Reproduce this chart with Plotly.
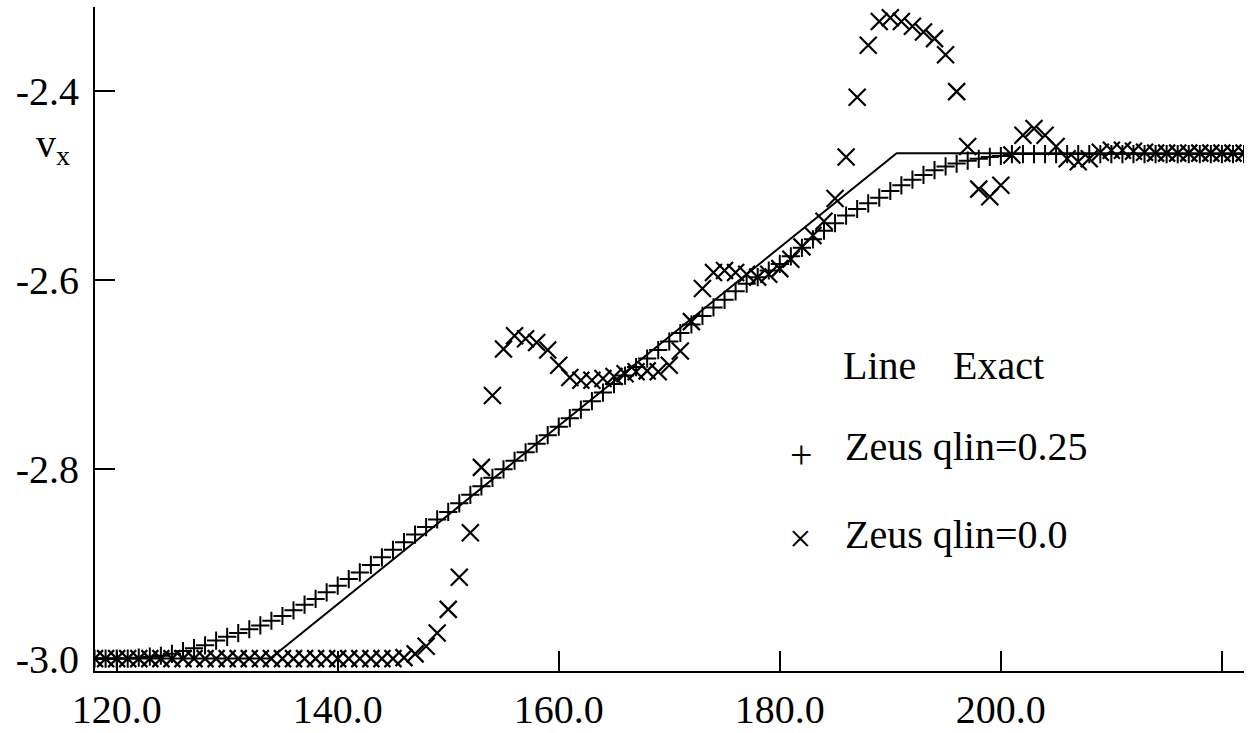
import plotly.graph_objects as go

# ---- data ----
x_grid = list(range(118, 223))

exact_x = [118.0, 133.9, 190.57, 222.0]
exact_y = [-3.0, -3.0, -2.466, -2.466]

plus_y = [
    -3.000, -3.000, -3.000, -3.000, -2.999, -2.998, -2.997, -2.995, -2.992, -2.989,  # 118-127
    -2.986, -2.981, -2.977, -2.973, -2.969, -2.965, -2.960, -2.955, -2.949, -2.943,  # 128-137
    -2.937, -2.930, -2.923, -2.916, -2.909, -2.901, -2.893, -2.885, -2.877, -2.869,  # 138-147
    -2.861, -2.853, -2.845, -2.836, -2.827, -2.818, -2.809, -2.800, -2.791, -2.782,  # 148-157
    -2.773, -2.764, -2.755, -2.746, -2.737, -2.728, -2.719, -2.710, -2.701, -2.692,  # 158-167
    -2.683, -2.674, -2.665, -2.656, -2.647, -2.638, -2.629, -2.621, -2.612, -2.604,  # 168-177
    -2.597, -2.590, -2.583, -2.575, -2.566, -2.557, -2.548, -2.540, -2.532, -2.525,  # 178-187
    -2.519, -2.513, -2.506, -2.500, -2.494, -2.489, -2.484, -2.480, -2.477, -2.474,  # 188-197
    -2.472, -2.470, -2.469, -2.467, -2.467, -2.467, -2.467, -2.467, -2.467, -2.467,  # 198-207
    -2.467, -2.467, -2.467, -2.467, -2.467, -2.467, -2.467, -2.467, -2.467, -2.467,  # 208-217
    -2.467, -2.467, -2.467, -2.467, -2.467,                                          # 218-222
]

cross_y = [
    -3.000, -3.000, -3.000, -3.000, -3.000, -3.000, -3.000, -3.000, -3.000, -3.000,  # 118-127
    -3.000, -3.000, -3.000, -3.000, -3.000, -3.000, -3.000, -3.000, -3.000, -3.000,  # 128-137
    -3.000, -3.000, -3.000, -3.000, -3.000, -3.000, -3.000, -3.000, -2.999, -2.995,  # 138-147
    -2.987, -2.973, -2.948, -2.914, -2.867, -2.798, -2.722, -2.673, -2.659, -2.662,  # 148-157
    -2.666, -2.674, -2.690, -2.703, -2.706, -2.706, -2.704, -2.702, -2.699, -2.697,  # 158-167
    -2.696, -2.697, -2.690, -2.675, -2.644, -2.609, -2.592, -2.590, -2.592, -2.594,  # 168-177
    -2.597, -2.594, -2.588, -2.578, -2.565, -2.553, -2.538, -2.514, -2.470, -2.407,  # 178-187
    -2.352, -2.327, -2.323, -2.327, -2.332, -2.338, -2.345, -2.362, -2.401, -2.459,  # 188-197
    -2.504, -2.512, -2.500, -2.468, -2.447, -2.440, -2.447, -2.459, -2.472, -2.475,  # 198-207
    -2.472, -2.465, -2.463, -2.463, -2.464, -2.465, -2.466, -2.466, -2.466, -2.466,  # 208-217
    -2.466, -2.466, -2.466, -2.466, -2.466,                                          # 218-222
]

x_tickvals = [120, 140, 160, 180, 200, 220]
x_ticktext = ["120.0", "140.0", "160.0", "180.0", "200.0", " "]
y_tickvals = [-3.0, -2.8, -2.6, -2.4]
y_ticktext = ["-3.0", "-2.8", "-2.6", "-2.4"]

legend_labels = ["Zeus qlin=0.25", "Zeus qlin=0.0"]

# ---- figure ----
W, H = 1248, 733
L, R, T, B = 95, 4, 7, 62
FONT = "Liberation Serif, Times New Roman, serif"

fig = go.Figure()

fig.add_trace(go.Scatter(
    x=exact_x, y=exact_y, mode="lines",
    line=dict(color="black", width=2), showlegend=False, hoverinfo="skip"))

fig.add_trace(go.Scatter(
    x=x_grid, y=plus_y, mode="markers",
    marker=dict(symbol="cross-thin", size=13, color="black",
                line=dict(color="black", width=2)),
    showlegend=False))

fig.add_trace(go.Scatter(
    x=x_grid, y=cross_y, mode="markers",
    marker=dict(symbol="x-thin", size=17, color="black",
                line=dict(color="black", width=2.2)),
    showlegend=False))

pw = W - L - R
ph = H - T - B


def px_x(p):
    return (p - L) / pw


def px_y(p):
    return (H - B - p) / ph


ann_font = dict(family=FONT, size=40, color="black")
annotations = [
    dict(text="Line", x=px_x(841), y=px_y(365), xanchor="left", yanchor="middle"),
    dict(text="Exact", x=px_x(951), y=px_y(365), xanchor="left", yanchor="middle"),
    dict(text="+", x=px_x(801), y=px_y(455), xanchor="center", yanchor="middle"),
    dict(text=legend_labels[0], x=px_x(843), y=px_y(446), xanchor="left", yanchor="middle"),
    dict(text="\u00d7", x=px_x(800), y=px_y(538), xanchor="center", yanchor="middle"),
    dict(text=legend_labels[1], x=px_x(843), y=px_y(534), xanchor="left", yanchor="middle"),
    dict(text="v<sub>x</sub>", x=px_x(34), y=px_y(146), xanchor="left", yanchor="middle"),
]
for a in annotations:
    a.update(xref="paper", yref="paper", showarrow=False, font=ann_font)

fig.update_layout(
    width=W, height=H, autosize=False,
    margin=dict(l=L, r=R, t=T, b=B, pad=0, autoexpand=False),
    paper_bgcolor="white", plot_bgcolor="white",
    font=dict(family=FONT, size=40, color="black"),
    annotations=annotations,
    showlegend=False,
)

fig.update_xaxes(
    range=[118.04, 222.0], showgrid=False, zeroline=False, automargin=False,
    showline=True, linecolor="black", linewidth=2, mirror=False,
    ticks="inside", ticklen=20, tickwidth=2, tickcolor="black",
    tickvals=x_tickvals, ticktext=x_ticktext,
    tickfont=dict(family=FONT, size=40, color="black"),
    ticklabelstandoff=2,
)
fig.update_yaxes(
    range=[-3.0131, -2.3116], showgrid=False, zeroline=False, automargin=False,
    showline=True, linecolor="black", linewidth=2, mirror=False,
    ticks="inside", ticklen=20, tickwidth=2, tickcolor="black",
    tickvals=y_tickvals, ticktext=y_ticktext,
    tickfont=dict(family=FONT, size=40, color="black"),
    ticklabelstandoff=6,
)

fig.write_html(
    "out.html",
    config={"displayModeBar": False},
    post_script="document.body.style.margin='0px';document.body.style.overflow='hidden';",
)
